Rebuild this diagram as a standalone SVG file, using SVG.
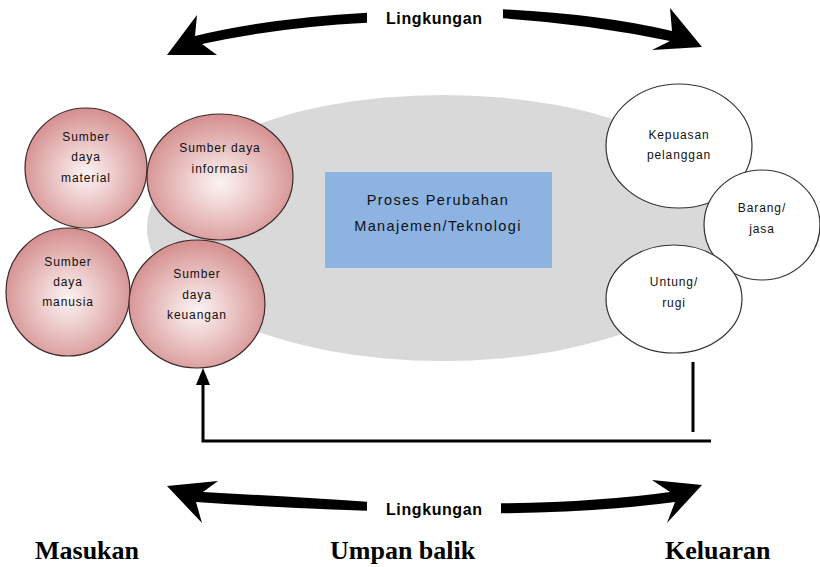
<svg xmlns="http://www.w3.org/2000/svg" width="820" height="567" viewBox="0 0 820 567">
<defs>
<radialGradient id="pink" cx="50%" cy="55%" r="55%">
<stop offset="0" stop-color="#FBF3F3"/>
<stop offset="0.35" stop-color="#F0D2D2"/>
<stop offset="1" stop-color="#D58E8E"/>
</radialGradient>
<style>
.in{fill:url(#pink);stroke:#3a2a2a;stroke-width:1.2}
.out{fill:#ffffff;stroke:#333333;stroke-width:1.2}
.t{font-family:"Liberation Sans",Arial,sans-serif;font-size:12px;letter-spacing:0.9px;fill:#111;text-anchor:middle}
.env{font-family:"Liberation Sans",Arial,sans-serif;font-size:16px;font-weight:bold;fill:#000;text-anchor:middle}
.lab{font-family:"Liberation Serif","Times New Roman",serif;font-size:26px;font-weight:bold;fill:#000}
.big{fill:#000;stroke:none}
.fb{fill:none;stroke:#000;stroke-width:3}
</style>
</defs>
<rect width="820" height="567" fill="#ffffff"/>
<ellipse id="process-area" cx="443" cy="228" rx="296" ry="133" fill="#D9D9D9"/>
<g id="process">
<rect x="325" y="172" width="227" height="96" fill="#8DB3E2"/>
<text x="438" y="205" class="t" style="font-size:14.5px;letter-spacing:1.4px">Proses Perubahan</text>
<text x="438" y="231" class="t" style="font-size:14.5px;letter-spacing:1.4px">Manajemen/Teknologi</text>
</g>
<g id="connectors">
<path class="big" d="M367,12.7 Q270,18 195,36 L197,15 L167,55 L217,55 L202,44 Q280,27 367,22.7 Z"/>
<path class="big" d="M503,9.3 Q600,14 672,31 L670,8 L702,47 L652,50 L670,41 Q590,24 503,18.3 Z"/>
<path class="big" d="M367,501.7 Q280,496 203,492 L218,481 L167,486 L202,523 L196,502 Q280,508 367,510.7 Z"/>
<path class="big" d="M501,503.3 Q600,502 670,492 L652,480 L702,485 L667,523 L675,502 Q600,512 501,513.3 Z"/>
<line class="fb" x1="693" y1="362" x2="693" y2="432"/>
<polyline class="fb" points="711,441 203,441 203,382"/>
<polygon class="big" points="203,368 196,385 210,385"/>
</g>
<g id="env-top"><text x="434" y="24" class="env" textLength="96" lengthAdjust="spacing">Lingkungan</text></g>
<g id="env-bottom"><text x="434" y="515" class="env" textLength="96" lengthAdjust="spacing">Lingkungan</text></g>
<g id="sd-material">
<ellipse class="in" cx="86" cy="168" rx="61" ry="60"/>
<text x="86" y="141" class="t">Sumber</text>
<text x="86" y="161" class="t">daya</text>
<text x="86" y="182" class="t">material</text>
</g>
<g id="sd-informasi">
<ellipse class="in" cx="220" cy="177" rx="73" ry="63"/>
<text x="220" y="152" class="t">Sumber daya</text>
<text x="220" y="173" class="t">informasi</text>
</g>
<g id="sd-manusia">
<ellipse class="in" cx="68" cy="292" rx="62" ry="64"/>
<text x="68" y="266" class="t">Sumber</text>
<text x="68" y="286" class="t">daya</text>
<text x="68" y="306" class="t">manusia</text>
</g>
<g id="sd-keuangan">
<ellipse class="in" cx="197" cy="304" rx="68" ry="64"/>
<text x="197" y="278" class="t">Sumber</text>
<text x="197" y="299" class="t">daya</text>
<text x="197" y="319" class="t">keuangan</text>
</g>
<g id="kepuasan">
<ellipse class="out" cx="679" cy="146" rx="73" ry="62"/>
<text x="679" y="139" class="t">Kepuasan</text>
<text x="679" y="159" class="t">pelanggan</text>
</g>
<g id="barang">
<ellipse class="out" cx="762" cy="225" rx="58" ry="55"/>
<text x="762" y="212" class="t">Barang/</text>
<text x="762" y="233" class="t">jasa</text>
</g>
<g id="untung">
<ellipse class="out" cx="674" cy="299" rx="68" ry="54"/>
<text x="674" y="286" class="t">Untung/</text>
<text x="674" y="307" class="t">rugi</text>
</g>
<g id="labels">
<text x="35" y="559" class="lab">Masukan</text>
<text x="330" y="559" class="lab">Umpan balik</text>
<text x="665" y="559" class="lab">Keluaran</text>
</g>
</svg>
